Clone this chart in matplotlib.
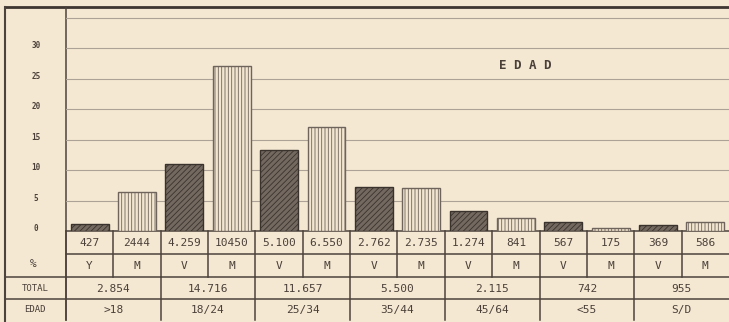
import numpy as np
import matplotlib
matplotlib.use("Agg")
import matplotlib.pyplot as plt
from matplotlib.transforms import blended_transform_factory

# Counts per age group, split by sex (V = varones, M = mujeres)
counts = [427, 2444, 4259, 10450, 5100, 6550, 2762, 2735, 1274, 841, 567, 175, 369, 586]
count_labels = ["427", "2444", "4.259", "10450", "5.100", "6.550", "2.762", "2.735",
                "1.274", "841", "567", "175", "369", "586"]
sex = ["Y", "M", "V", "M", "V", "M", "V", "M", "V", "M", "V", "M", "V", "M"]
totals = ["2.854", "14.716", "11.657", "5.500", "2.115", "742", "955"]
age_groups = [">18", "18/24", "25/34", "35/44", "45/64", "<55", "S/D"]
yticks = [0, 5, 10, 15, 20, 25, 30]

paper = "#f4e8d3"
ink = "#4a4038"
rule = "#ada296"

W, H = 729, 322
fig = plt.figure(figsize=(W / 100, H / 100), dpi=100, facecolor=paper)
plt.rcParams["hatch.linewidth"] = 0.6
font = ["DejaVu Sans Mono", "DejaVu Sans"]

# Background axes in pixel coordinates for the frame and the table
bg = fig.add_axes([0, 0, 1, 1])
bg.set_xlim(0, W)
bg.set_ylim(H, 0)
bg.axis("off")
bg.set_facecolor(paper)

x0, x_left = 66, 5
cell = (W - x0) / 14
y_base, y_top = 231, 7
rows = [231, 254, 277, 299, 320]

# Bar chart axes
px_per_unit = 6.1
ymax = (y_base - y_top) / px_per_unit
ax = fig.add_axes([x0 / W, 1 - y_base / H, (W - x0) / W, (y_base - y_top) / H])
ax.patch.set_alpha(0)
ax.set_xlim(-0.5, 13.5)
ax.set_ylim(0, ymax)
for s in ax.spines.values():
    s.set_visible(False)
ax.set_xticks([])
ax.set_yticks([])
for g in list(range(5, 40, 5)):
    ax.axhline(g, color=rule, lw=0.8, zorder=0)

pct = np.array(counts) / np.sum(counts) * 100
xs = np.arange(len(counts))
for i, (x, p) in enumerate(zip(xs, pct)):
    if i % 2 == 0:
        ax.bar(x, p, width=0.8, facecolor="#736961", edgecolor="#3a322c",
               hatch="//////", lw=1.0, zorder=2)
    else:
        ax.bar(x, p, width=0.8, facecolor="#f2e6d0", edgecolor="#6e645c",
               hatch="|||||", lw=1.0, zorder=2)

# y tick labels in the left column
tr = blended_transform_factory(fig.transFigure, ax.transData)
for t in yticks:
    ax.text(36 / W, t + 0.4, str(t), transform=tr, ha="center", va="center",
            fontsize=5.5, color=ink, family=font, fontweight="bold")
bg.text(33, 264, "%", ha="center", va="center", fontsize=8, color=ink, family=font)

# Title
ax.text(0.692, 0.74, "E D A D", transform=ax.transAxes, ha="center", va="center",
        fontsize=9, color=ink, family=font, fontweight="bold")

# Frame
lk = dict(color="#4c433c", lw=1.1)
bg.plot([x_left, W], [y_top, y_top], color="#3e3630", lw=2.0)
bg.plot([x_left, x_left], [y_top, H], color="#4c433c", lw=1.5)
bg.plot([x0, x0], [y_top, rows[2]], **lk)
bg.plot([x0, W], [rows[0], rows[0]], **lk)
bg.plot([x0, W], [rows[1], rows[1]], **lk)
bg.plot([x_left, W], [rows[2], rows[2]], **lk)
bg.plot([x_left, W], [rows[3], rows[3]], **lk)
bg.plot([x0, x0], [rows[2], rows[4]], **lk)

# Per-bar cells
for i in range(14):
    xl = x0 + i * cell
    bg.plot([xl, xl], [rows[0], rows[2]], **lk)
    cx = xl + cell / 2
    bg.text(cx, (rows[0] + rows[1]) / 2 + 0.5, count_labels[i], ha="center", va="center",
            fontsize=8, color=ink, family=font)
    bg.text(cx, (rows[1] + rows[2]) / 2 + 0.5, sex[i], ha="center", va="center",
            fontsize=8, color=ink, family=font)

# Per-group cells
for j in range(7):
    xl = x0 + 2 * j * cell
    bg.plot([xl, xl], [rows[2], rows[4]], **lk)
    cx = xl + cell
    bg.text(cx, (rows[2] + rows[3]) / 2 + 0.5, totals[j], ha="center", va="center",
            fontsize=8, color=ink, family=font)
    bg.text(cx, (rows[3] + rows[4]) / 2 + 0.5, age_groups[j], ha="center", va="center",
            fontsize=8, color=ink, family=font)

bg.text(35, (rows[2] + rows[3]) / 2 + 0.5, "TOTAL", ha="center", va="center",
        fontsize=6.5, color=ink, family=font)
bg.text(35, (rows[3] + rows[4]) / 2 + 0.5, "EDAD", ha="center", va="center",
        fontsize=6.5, color=ink, family=font)

fig.savefig("out.png", dpi=100, facecolor=paper)
